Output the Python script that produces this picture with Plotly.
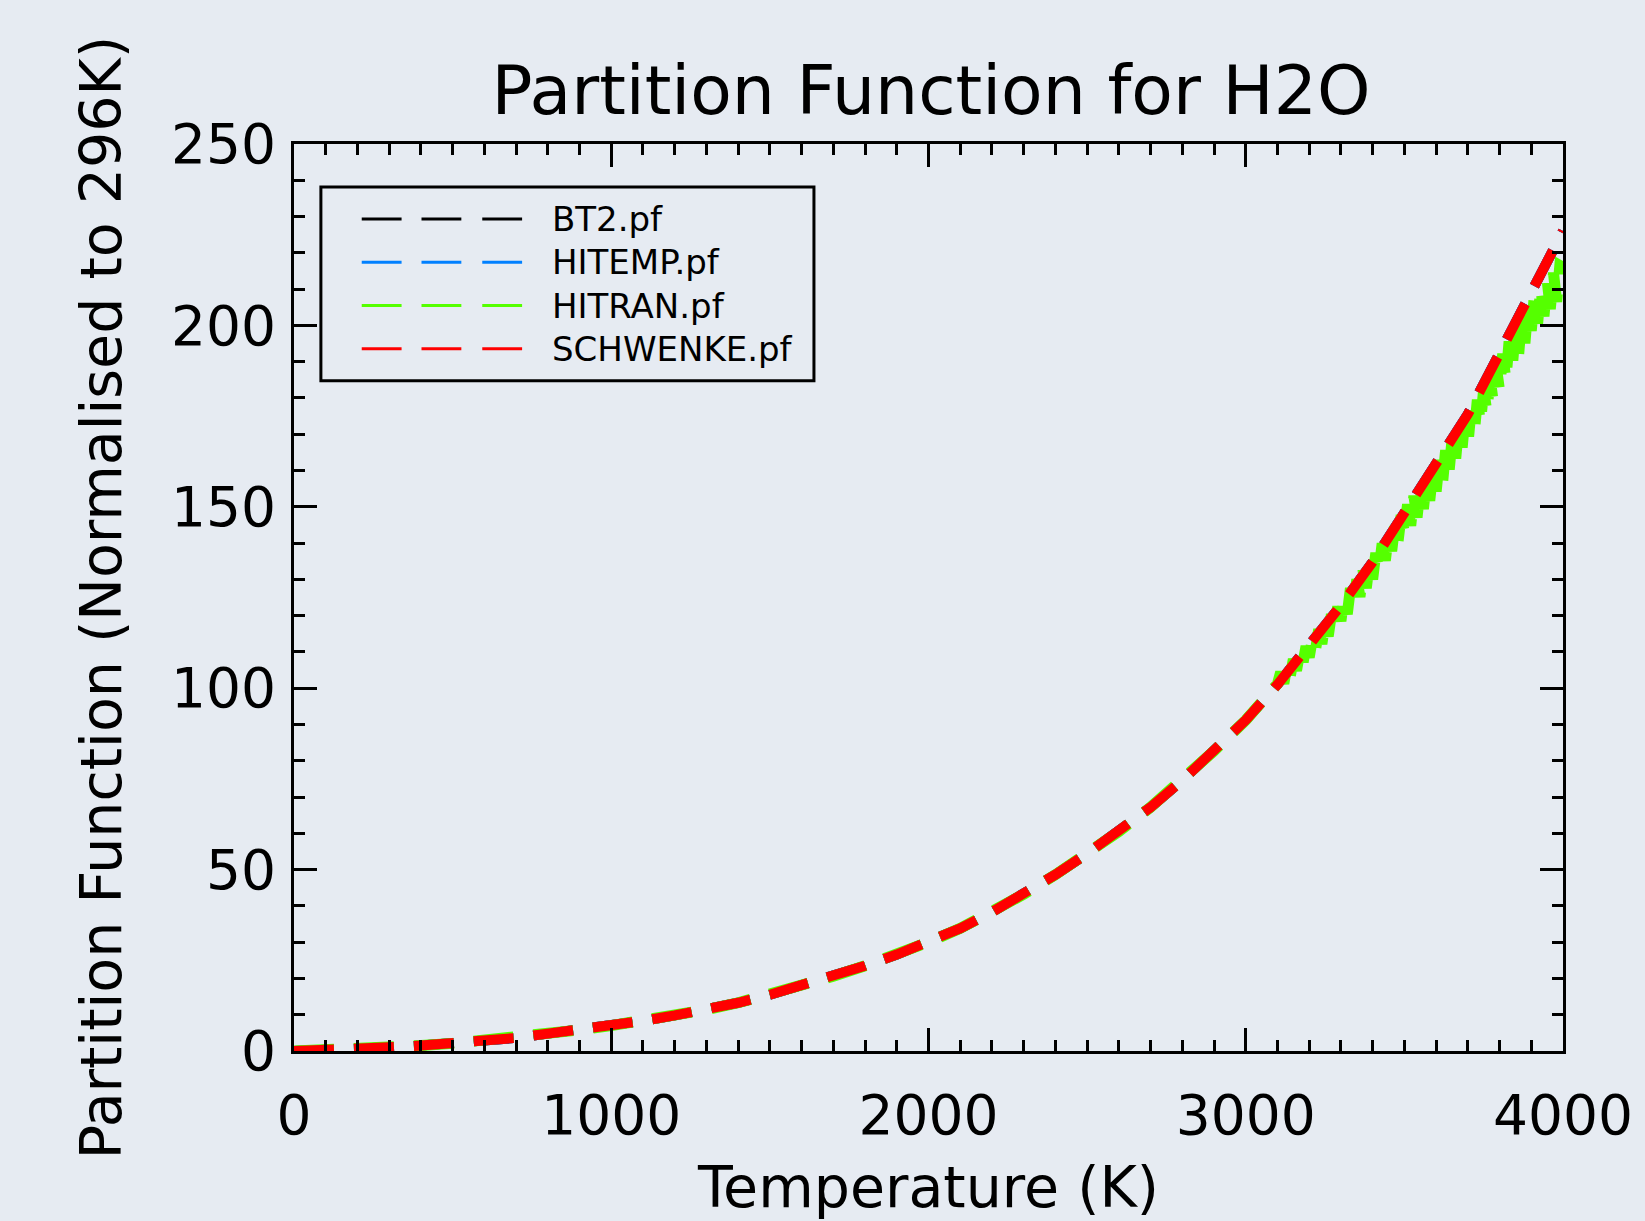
import plotly.graph_objects as go

# ---------------- data ----------------
temps = [0, 100, 200, 300, 400, 500, 600, 700, 800, 900, 1000, 1100, 1200, 1300, 1400,
         1500, 1600, 1700, 1800, 1900, 2000, 2100, 2200, 2300, 2400, 2500, 2600, 2700,
         2800, 2900, 3000, 3100, 3200, 3300, 3400, 3500, 3600, 3700, 3800, 3900, 4000]

schwenke = [0.01, 0.2, 0.55, 1.0, 1.5, 2.1, 2.9, 3.6, 4.8, 5.8, 7.0, 8.3, 9.8, 11.4, 13.3,
            15.5, 18.0, 20.6, 23.5, 26.6, 30.0, 33.8, 38.3, 43.2, 48.6, 54.4, 60.5, 67.2,
            74.6, 82.7, 91.2, 101.0, 111.8, 122.8, 134.8, 148.3, 160.8, 175.5, 192.3, 209.0, 226.0]

bt2 = [0.01, 0.2, 0.55, 1.0, 1.5, 2.1, 2.9, 3.6, 4.8, 5.8, 7.0, 8.3, 9.8, 11.4, 13.3,
       15.5, 18.0, 20.6, 23.5, 26.6, 30.0, 33.8, 38.3, 43.2, 48.6, 54.4, 60.5, 67.2,
       74.6, 82.7, 91.2, 101.0, 111.8, 122.8, 134.8, 148.3, 160.8, 175.5, 192.3, 209.0, 226.0]

hitemp = [0.01, 0.2, 0.55, 1.0, 1.5, 2.1, 2.9, 3.6, 4.8, 5.8, 7.0, 8.3, 9.8, 11.4, 13.3,
          15.5, 18.0, 20.6, 23.5, 26.6, 30.0, 33.8, 38.3, 43.2, 48.6, 54.4, 60.5, 67.2,
          74.6, 82.7, 91.2, 101.0, 111.8, 122.8, 134.8, 148.3, 160.8, 175.5, 192.3, 209.0, 226.0]

# HITRAN: smooth part (100 K steps), then noisy high-temperature part (10 K steps)
hitran_t = [0, 100, 200, 300, 400, 500, 600, 700, 800, 900, 1000, 1100, 1200, 1300, 1400,
            1500, 1600, 1700, 1800, 1900, 2000, 2100, 2200, 2300, 2400, 2500, 2600, 2700,
            2800, 2900, 3000, 3100,
            3110, 3120, 3130, 3140, 3150, 3160, 3170, 3180, 3190, 3200,
            3210, 3220, 3230, 3240, 3250, 3260, 3270, 3280, 3290, 3300,
            3310, 3320, 3330, 3340, 3350, 3360, 3370, 3380, 3390, 3400,
            3410, 3420, 3430, 3440, 3450, 3460, 3470, 3480, 3490, 3500,
            3510, 3520, 3530, 3540, 3550, 3560, 3570, 3580, 3590, 3600,
            3610, 3620, 3630, 3640, 3650, 3660, 3670, 3680, 3690, 3700,
            3710, 3720, 3730, 3740, 3750, 3760, 3770, 3780, 3790, 3800,
            3810, 3820, 3830, 3840, 3850, 3860, 3870, 3880, 3890, 3900,
            3910, 3920, 3930, 3940, 3950, 3960, 3970, 3980, 3990, 4000]
hitran = [0.01, 0.2, 0.55, 1.0, 1.5, 2.1, 2.9, 3.6, 4.8, 5.8, 7.0, 8.3, 9.8, 11.4, 13.3,
          15.5, 18.0, 20.6, 23.5, 26.6, 30.0, 33.8, 38.3, 43.2, 48.6, 54.4, 60.5, 67.2,
          74.6, 82.7, 91.2, 101.2,
          104.4, 101.3, 106.2, 103.1, 108.0, 104.9, 109.8, 106.7, 111.6, 108.5,
          113.6, 110.6, 116.2, 112.2, 118.3, 114.3, 120.4, 116.4, 122.5, 118.5,
          125.2, 120.4, 127.6, 122.8, 130.0, 125.2, 132.4, 127.6, 134.8, 130.0,
          137.3, 132.6, 139.9, 135.2, 142.5, 137.8, 145.1, 140.4, 147.7, 143.0,
          150.7, 144.8, 153.0, 147.1, 155.3, 149.4, 157.6, 151.7, 159.9, 154.0,
          162.9, 156.2, 165.6, 158.9, 168.3, 161.6, 171.0, 164.3, 173.7, 167.0,
          176.5, 170.0, 179.5, 173.0, 182.5, 176.0, 185.5, 179.0, 188.5, 182.0,
          192.2, 184.9, 195.6, 188.3, 199.0, 191.7, 202.4, 195.1, 205.8, 198.5,
          208.5, 200.5, 210.5, 202.5, 212.5, 204.5, 214.5, 206.5, 216.5, 216.0]

names = ["BT2.pf", "HITEMP.pf", "HITRAN.pf", "SCHWENKE.pf"]
colors = ["#000000", "#0080FF", "#55FF00", "#FF0000"]
widths = [10, 10, 11, 10]

x_ticks = [0, 1000, 2000, 3000, 4000]
y_ticks = [0, 50, 100, 150, 200, 250]

# ---------------- figure ----------------
W, H = 1645, 1221
L, R, T, B = 294, 1568, 144, 1052
BG = "#E6EBF2"
FONT = "DejaVu Sans"
DASH = "40px,20px"

fig = go.Figure()
series = [(temps, bt2), (temps, hitemp), (hitran_t, hitran), (temps, schwenke)]
for (xs, ys), nm, col, w in zip(series, names, colors, widths):
    fig.add_trace(go.Scatter(x=xs, y=ys, mode="lines", name=nm,
                             line=dict(color=col, width=w, dash=DASH),
                             showlegend=False))

axis_common = dict(showline=True, linecolor="black", linewidth=3, mirror="allticks",
                   ticks="inside", ticklen=23, tickwidth=3, tickcolor="black",
                   showgrid=False, zeroline=False,
                   tickfont=dict(family=FONT, size=55, color="black"))

fig.update_xaxes(range=[0, 4000], tickvals=x_ticks, ticktext=[str(v) for v in x_ticks],
                 minor=dict(dtick=100, tick0=0, ticks="inside", ticklen=11, tickwidth=3,
                            tickcolor="black", showgrid=False),
                 ticklabelstandoff=14,
                 title=dict(text="Temperature (K)", font=dict(family=FONT, size=57, color="black"),
                            standoff=22),
                 **axis_common)
fig.update_yaxes(range=[0, 250], tickvals=y_ticks, ticktext=[str(v) for v in y_ticks],
                 minor=dict(dtick=10, tick0=0, ticks="inside", ticklen=11, tickwidth=3,
                            tickcolor="black", showgrid=False),
                 ticklabelstandoff=4,
                 title=dict(text="Partition Function (Normalised to 296K)",
                            font=dict(family=FONT, size=57, color="black"), standoff=32),
                 **axis_common)

def px(xp):
    return (xp - L) / (R - L)

def py(yp):
    return (B - yp) / (B - T)

# legend box (drawn manually to mimic three-dash samples)
shapes = [dict(type="rect", xref="paper", yref="paper", x0=px(321), x1=px(816),
               y0=py(381), y1=py(187), line=dict(color="black", width=3),
               fillcolor="rgba(0,0,0,0)")]
annotations = []
row_y = [219, 262.3, 305.7, 349]
for nm, col, yy in zip(names, colors, row_y):
    for x0 in (362, 422, 483):
        shapes.append(dict(type="line", xref="paper", yref="paper",
                           x0=px(x0), x1=px(x0 + 40), y0=py(yy), y1=py(yy),
                           line=dict(color=col, width=3)))
    annotations.append(dict(text=nm, xref="paper", yref="paper", x=px(551), y=py(yy),
                            xanchor="left", yanchor="middle", showarrow=False,
                            font=dict(family=FONT, size=34, color="black")))

fig.update_layout(
    width=W, height=H,
    margin=dict(l=L, r=W - R, t=T, b=H - B, pad=0),
    paper_bgcolor=BG, plot_bgcolor=BG,
    title=dict(text="Partition Function for H2O", x=(L + R) / 2 / W, xanchor="center",
               y=1 - 90 / H, yanchor="middle",
               font=dict(family=FONT, size=68, color="black")),
    shapes=shapes, annotations=annotations,
    showlegend=False,
)

fig.write_html("out.html", config={"displayModeBar": False},
               post_script="document.body.style.margin='0';document.body.style.background='%s';" % BG)
